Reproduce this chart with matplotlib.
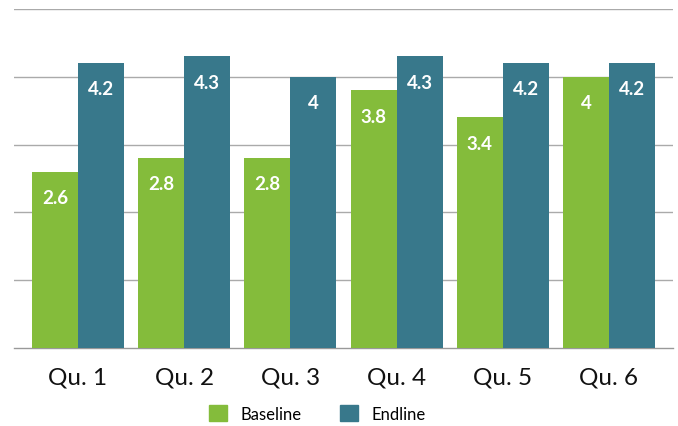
import numpy as np
import matplotlib.pyplot as plt
from matplotlib.patches import Patch

categories = ['Qu. 1', 'Qu. 2', 'Qu. 3', 'Qu. 4', 'Qu. 5', 'Qu. 6']
baseline = [2.6, 2.8, 2.8, 3.8, 3.4, 4]
endline = [4.2, 4.3, 4, 4.3, 4.2, 4.2]
value_labels_base = ['2.6', '2.8', '2.8', '3.8', '3.4', '4']
value_labels_end = ['4.2', '4.3', '4', '4.3', '4.2', '4.2']

green = '#84BC3B'
teal = '#38788B'

plt.rcParams['font.family'] = ['Lato', 'DejaVu Sans']

fig = plt.figure(figsize=(6.78, 4.27), dpi=100)
ax = fig.add_axes([14/678, 1-349/427, 659/678, 339/427])

x = np.arange(len(categories))
w = 0.433
b1 = ax.bar(x - w/2, baseline, w, color=green, zorder=3)
b2 = ax.bar(x + w/2, endline, w, color=teal, zorder=3)

# value labels inside top of bars
for bars, labs in [(b1, value_labels_base), (b2, value_labels_end)]:
    for bar, lab in zip(bars, labs):
        ax.annotate(lab, (bar.get_x() + bar.get_width()/2, bar.get_height()),
                    xytext=(0, -18.5), textcoords='offset points',
                    ha='center', va='center', color='white',
                    fontsize=13.5, fontweight='bold', zorder=4)

ax.set_ylim(0, 5)
ax.set_xlim(-0.603, 5.603)
ax.set_yticks([1, 2, 3, 4, 5])
ax.yaxis.grid(True, color='#AAAAAA', linewidth=1)
ax.tick_params(axis='y', left=False, labelleft=False)
ax.tick_params(axis='x', length=0, pad=13, labelsize=17.5, labelcolor='#111111')
ax.set_xticks(x)
ax.set_xticklabels(categories)
for s in ['top', 'right', 'left']:
    ax.spines[s].set_visible(False)
ax.spines['bottom'].set_color('#999999')
ax.spines['bottom'].set_linewidth(1)

handles = [Patch(color=green, label='Baseline'), Patch(color=teal, label='Endline')]
fig.legend(handles=handles, loc='center', bbox_to_anchor=(0.468, 0.029), ncol=2,
           frameon=False, prop={'size': 12},
           handlelength=1.1, handleheight=1.1,
           columnspacing=2.3, handletextpad=0.8)

fig.savefig('out.png', dpi=100)
